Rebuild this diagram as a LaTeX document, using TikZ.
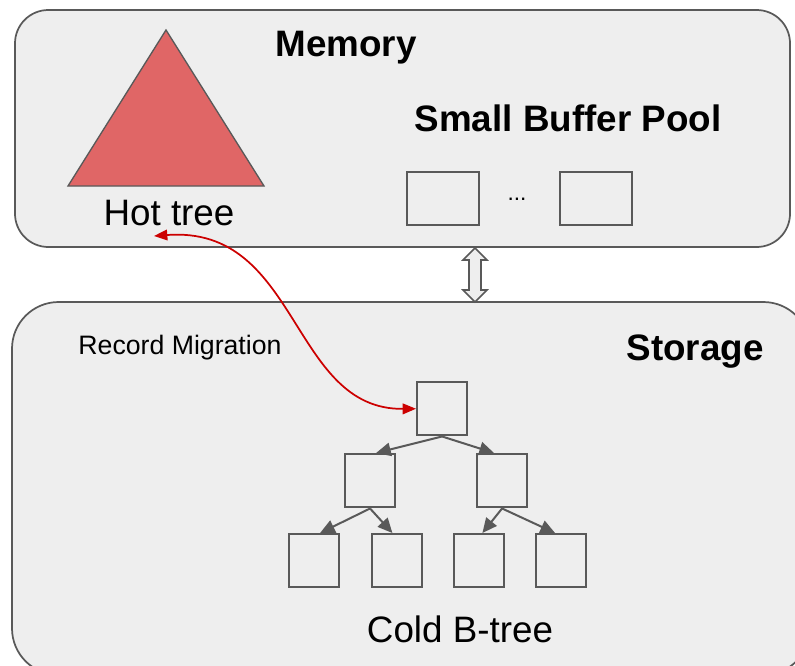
\documentclass[tikz,border=0pt]{standalone}
\usepackage{fontspec}
\setmainfont{Liberation Sans}
\usetikzlibrary{arrows.meta}
\definecolor{boxfill}{HTML}{EEEEEE}
\definecolor{edgegray}{HTML}{595959}
\definecolor{hotred}{HTML}{E06666}
\definecolor{migred}{HTML}{CC0000}
\tikzset{
  panel/.style={draw=edgegray, fill=boxfill, line width=1.3pt},
  page/.style={draw=edgegray, line width=1.6pt, minimum width=37.5pt, minimum height=40pt, inner sep=0pt, anchor=north west},
  buf/.style={draw=edgegray, line width=1.6pt, minimum width=54pt, minimum height=39.5pt, inner sep=0pt, anchor=north west},
  treearrow/.style={draw=edgegray, line width=1.5pt, -{Triangle[length=11pt,width=10pt]}},
  bigtitle/.style={font=\bfseries\fontsize{27.6pt}{30pt}\selectfont, inner sep=0pt},
  bigtext/.style={font=\fontsize{27.6pt}{30pt}\selectfont, inner sep=0pt},
  smalltext/.style={font=\fontsize{20pt}{23pt}\selectfont, inner sep=0pt},
}
\begin{document}
\begin{tikzpicture}[x=0.75pt, y=-0.75pt]
\useasboundingbox (0,0) rectangle (795,665);
% panels
\draw[panel, rounded corners=25pt] (15,10) rectangle (790,247);
\draw[panel, rounded corners=35pt] (12,302) rectangle (810,675);
% hot tree
\draw[fill=hotred, draw=edgegray, line width=1pt] (166,30) -- (264,186) -- (68,186) -- cycle;
\node[bigtext] (hot) at (169,213) {Hot tree};
\node[bigtitle] (mem) at (346,48) {Memory};
\node[bigtitle] (sbp) at (568,118) {Small Buffer Pool};
\node[buf] (b1) at (406,171) {};
\node[buf] (b2) at (559,171) {};
\node[font=\fontsize{17pt}{19pt}\selectfont, inner sep=0pt] (dots) at (517,199) {...};
% double arrow
\draw[draw=edgegray, fill=boxfill, line width=1.2pt, line join=miter]
  (475,248) -- (487,260) -- (481,260) -- (481,290) -- (487,290) -- (475,302)
  -- (463,290) -- (469,290) -- (469,260) -- (463,260) -- cycle;
% storage
\node[bigtitle] (sto) at (695,352) {Storage};
\node[smalltext] (rm) at (180,348) {Record Migration};
\node[page] (r) at (416,381) {};
\node[page] (l) at (344,453) {};
\node[page] (rr) at (476,453) {};
\node[page] (ll) at (288,533) {};
\node[page] (lr) at (371,533) {};
\node[page] (rl) at (453,533) {};
\node[page] (rrr) at (535,533) {};
\node[bigtext] (cold) at (460,629) {Cold B-tree};
\draw[treearrow] (r.south) -- ([xshift=4.5pt]l.north);
\draw[treearrow] (r.south) -- ([xshift=-6pt]rr.north);
\draw[treearrow] (l.south) -- ([xshift=4.5pt]ll.north);
\draw[treearrow] (l.south) -- ([xshift=-3.5pt]lr.north);
\draw[treearrow] (rr.south) -- ([xshift=2.5pt]rl.north);
\draw[treearrow] (rr.south) -- ([xshift=-4.5pt]rrr.north);
% migration
\coordinate (hotend) at (154,236);
\draw[migred, line width=1.3pt, {Triangle[length=10pt,width=8pt]}-{Triangle[length=10pt,width=8pt]}]
  (hotend) .. controls (300,225) and (290,410) .. (r.west);
\end{tikzpicture}
\end{document}
